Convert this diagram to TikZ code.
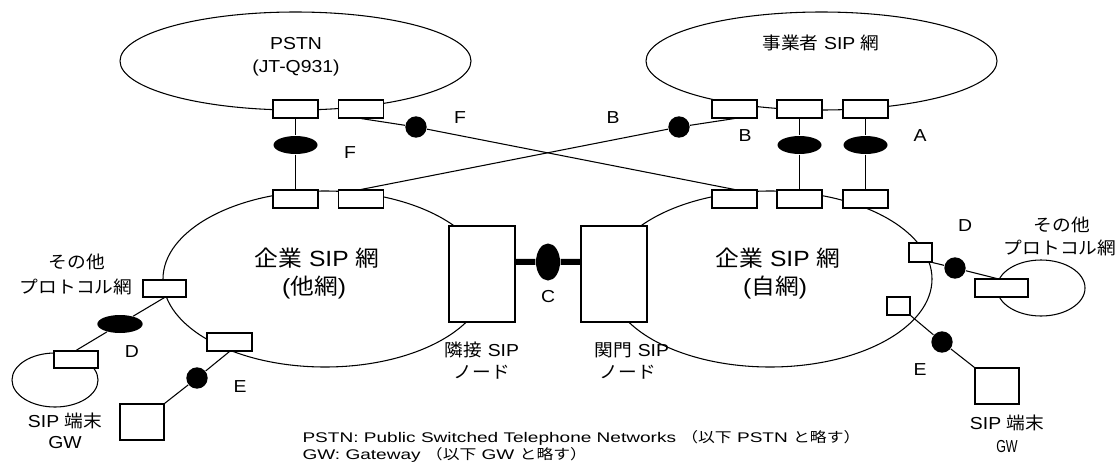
\documentclass[tikz,border=0pt]{standalone}
\usepackage{fontspec}
\setmainfont{Liberation Sans}[FakeStretch=1.12]
\newfontfamily\jpf{Noto Sans CJK JP}[FakeStretch=1.08]
\newfontfamily\wdf{Liberation Sans}[FakeStretch=1.36]
\newfontfamily\wdjp{Noto Sans CJK JP}[FakeStretch=1.2]
\newfontfamily\nrw{Liberation Sans}[FakeStretch=0.72]
\newcommand\J[1]{{\jpf #1}}
\newcommand\WJ[1]{{\wdjp #1}}
\usetikzlibrary{calc,shapes.geometric}
\begin{document}
\begin{tikzpicture}[x=0.75pt,y=-0.75pt,line width=0.8pt,
  net/.style={draw,ellipse,inner sep=0pt},
  port/.style={draw,fill=white,rectangle,inner sep=0pt,minimum width=33.75pt,minimum height=13.5pt},
  sq/.style={draw,fill=white,rectangle,inner sep=0pt},
  bell/.style={fill=black,ellipse,inner sep=0pt,minimum width=33pt,minimum height=13.5pt},
  dot/.style={fill=black,circle,inner sep=0pt,minimum size=16pt},
  lbl/.style={inner sep=0pt,font=\fontsize{13}{15}\selectfont},
  big/.style={inner sep=0pt,font=\fontsize{16.5}{19}\selectfont},
  note/.style={inner sep=0pt,anchor=west,font=\wdf\fontsize{10.5}{13}\selectfont}]
\useasboundingbox (0,0) rectangle (1119,464);
% networks
\node[net,minimum width=263.25pt,minimum height=73.5pt] (pstn) at (295.5,61) {};
\node[net,minimum width=263.25pt,minimum height=73.5pt] (carrier) at (821.5,61) {};
\node[net,minimum width=243pt,minimum height=132pt] (entL) at (325,279) {};
\node[net,minimum width=243pt,minimum height=132pt] (entR) at (770,279) {};
\node[net,minimum width=64.5pt,minimum height=40.5pt] (othL) at (55,380) {};
\node[net,minimum width=66pt,minimum height=42pt] (othR) at (1041,288) {};
% ports
\node[port] (p1) at (295.5,109) {};
\node[port] (p2) at (361,109) {};
\node[port] (u1) at (734.5,109) {};
\node[port] (u2) at (799.5,109) {};
\node[port] (u3) at (865.5,109) {};
\node[port] (l1) at (295.5,199) {};
\node[port] (l2) at (361,199) {};
\node[port] (r1) at (734.5,199) {};
\node[port] (r2) at (799.5,199) {};
\node[port] (r3) at (865.5,199) {};
\node[port,minimum width=32.25pt,minimum height=12.75pt] (lo) at (164.5,288.5) {};
\node[port,minimum width=33pt,minimum height=12.75pt] (lb) at (76,359.5) {};
\node[port] (le) at (229.5,342) {};
\node[port,minimum width=39.75pt] (ro) at (1001.5,288) {};
\node[sq,minimum width=17.25pt,minimum height=14.25pt] (rd) at (920.5,252.5) {};
\node[sq,minimum width=17.25pt,minimum height=13.5pt] (re) at (898.5,306) {};
\node[sq,minimum width=33pt,minimum height=27pt] (ls) at (142,422) {};
\node[sq,minimum width=33pt,minimum height=27pt] (rs) at (997,386) {};
\node[sq,minimum width=49.5pt,minimum height=72pt] (nA) at (482,274) {};
\node[sq,minimum width=49.5pt,minimum height=72pt] (nB) at (614,274) {};
% markers
\node[dot] (d1) at (416,127) {};
\node[dot] (d2) at (679,127) {};
\node[dot] (dle) at (197,378) {};
\node[dot] (dre) at (942,342) {};
\node[dot] (drd) at (955,268) {};
\node[bell] (e1) at (295.5,145) {};
\node[bell] (e2) at (799.5,145) {};
\node[bell] (e3) at (865.5,145) {};
\node[bell,minimum width=34pt] (eld) at (120,324) {};
\node[fill=black,ellipse,inner sep=0pt,minimum width=18pt,minimum height=27.75pt] (ce) at (548,262) {};
% connectors
\draw (p1.south) -- (e1) -- (l1.north);
\draw (u2.south) -- (e2) -- (r2.north);
\draw (u3.south) -- (e3) -- (r3.north);
\draw (p2.south) -- (d1) -- (r1.north);
\draw (l2.north) -- (d2) -- (u1.south);
\draw (lo.south) -- (eld) -- (lb.north);
\draw (le.south) -- (dle) -- (ls.north east);
\draw (re.south east) -- (dre) -- (rs.north west);
\coordinate (roin) at ($(ro.north west)!0.41!(ro.north east)$);
\draw (rd.south east) -- (drd) -- (roin);
\coordinate (ca) at ($(nA.north east)!0.375!(nA.south east)$);
\coordinate (cb) at ($(nB.north west)!0.375!(nB.south west)$);
\draw[line width=4.5pt] (ca) -- (ce) -- (cb);
% texts
\node[lbl] (tpstn) at (296,44) {PSTN};
\node[lbl] (tjt) at (296,68) {(JT-Q931)};
\node[lbl] (tcar) at (821,43) {\J{事業者} SIP \J{網}};
\node[lbl] (tF1) at (350,153) {F};
\node[lbl] (tF2) at (460,118) {F};
\node[lbl] (tB1) at (613,118) {B};
\node[lbl] (tB2) at (745,136) {B};
\node[lbl] (tA) at (920,136) {A};
\node[lbl] (tC) at (548,297) {C};
\node[lbl] (tDl) at (132,352) {D};
\node[lbl] (tEl) at (240,387) {E};
\node[lbl] (tDr) at (965,226) {D};
\node[lbl] (tEr) at (920,370) {E};
\node[big] (tentL1) at (317,258) {\J{企業} SIP \J{網}};
\node[big] (tentL2) at (314,288) {(\J{他網})};
\node[big] (tentR1) at (778,258) {\J{企業} SIP \J{網}};
\node[big] (tentR2) at (775,288) {(\J{自網})};
\node[lbl] (tnA1) at (482,350) {\J{隣接} SIP};
\node[lbl] (tnA2) at (482,372) {\J{ノード}};
\node[lbl] (tnB1) at (632,350) {\J{関門} SIP};
\node[lbl] (tnB2) at (628,372) {\J{ノード}};
\node[lbl] (toL1) at (77,262) {\J{その他}};
\node[lbl] (toL2) at (76,287) {\J{プロトコル網}};
\node[lbl] (toR1) at (1062,225) {\J{その他}};
\node[lbl] (toR2) at (1060,248) {\J{プロトコル網}};
\node[lbl] (tsL1) at (65,421) {SIP \J{端末}};
\node[lbl] (tsL2) at (65,443) {GW};
\node[lbl] (tsR1) at (1007,423) {SIP \J{端末}};
\node[lbl,font=\nrw\fontsize{13}{15}\selectfont] (tsR2) at (1007,447) {GW};
\node[note] (n1) at (302,438) {PSTN: Public Switched Telephone Networks \WJ{（以下} PSTN \WJ{と略す）}};
\node[note] (n2) at (302,455) {GW: Gateway \WJ{（以下} GW \WJ{と略す）}};
\end{tikzpicture}
\end{document}
